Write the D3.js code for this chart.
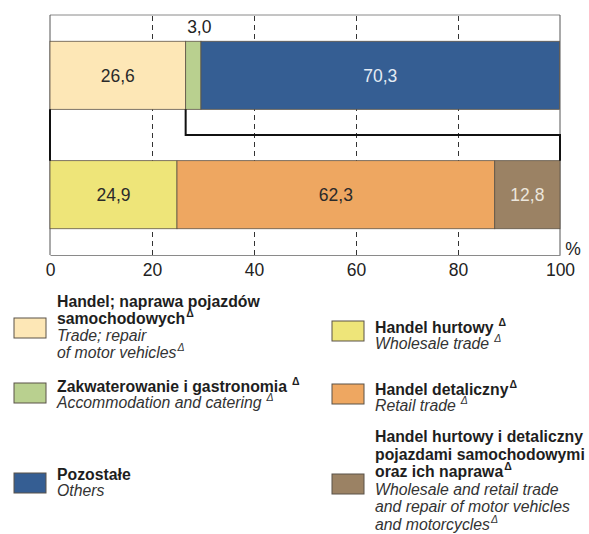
<!DOCTYPE html>
<html>
<head>
<meta charset="utf-8">
<script src="https://cdn.jsdelivr.net/npm/d3@7"></script>
<style>
  body { margin: 0; background: #fff; }
  svg { display: block; font-family: "Liberation Sans", Arial, sans-serif; }
</style>
</head>
<body>
<div id="main"></div>
<script>
// rows of the chart
var rows = ["top", "bottom"];

// top bar: whole economy split
var topKeys = ["trade", "accommodation", "others"];
var topValues = [26.6, 3.0, 70.3];
var topLabels = ["26,6", "3,0", "70,3"];

// bottom bar: split of the trade part
var bottomKeys = ["wholesale", "retail", "motor"];
var bottomValues = [24.9, 62.3, 12.8];
var bottomLabels = ["24,9", "62,3", "12,8"];

var tickValues = [0, 20, 40, 60, 80, 100];

var colors = {
    trade: "#fde7b6",
    accommodation: "#b9d08f",
    others: "#355e93",
    wholesale: "#eee579",
    retail: "#eea761",
    motor: "#9b8264"
};
var labelColors = {
    trade: "#2a2a2a", accommodation: "#2a2a2a", others: "#e4ebf3",
    wholesale: "#2a2a2a", retail: "#2a2a2a", motor: "#ece6dc"
};

// legend text, "^" marks the delta sign
var legendLeft = [
    { key: "trade", bold: ["Handel; naprawa pojazdów", "samochodowych^"], italic: ["Trade; repair", "of motor vehicles^"] },
    { key: "accommodation", bold: ["Zakwaterowanie i gastronomia ^"], italic: ["Accommodation and catering ^"] },
    { key: "others", bold: ["Pozostałe"], italic: ["Others"] }
];
var legendRight = [
    { key: "wholesale", bold: ["Handel hurtowy ^"], italic: ["Wholesale trade ^"] },
    { key: "retail", bold: ["Handel detaliczny^"], italic: ["Retail trade ^"] },
    { key: "motor", bold: ["Handel hurtowy i detaliczny", "pojazdami samochodowymi", "oraz ich naprawa^"],
      italic: ["Wholesale and retail trade", "and repair of motor vehicles", "and motorcycles^"] }
];

var width = 589, height = 534;
var svg = d3.select("#main").append("svg")
    .attr("width", width)
    .attr("height", height);

var x = d3.scaleLinear().domain([0, 100]).range([50, 560]);
var y = d3.scaleBand().domain(rows).range([15, 255]).paddingInner(0.43).paddingOuter(0.22);

// dashed grid
svg.append("g")
    .attr("transform", "translate(0,255)")
    .call(d3.axisBottom(x).tickValues([20, 40, 60, 80]).tickSize(-240).tickFormat(""))
    .call(function(g) {
        g.select(".domain").remove();
        g.selectAll(".tick line").attr("stroke", "#333").attr("stroke-dasharray", "5,4").attr("stroke-width", 1);
    });

// frame
svg.append("line").attr("x1", x(0)).attr("x2", x(100)).attr("y1", 15).attr("y2", 15).attr("stroke", "#8a8a8a");
svg.append("line").attr("x1", x(0)).attr("x2", x(0)).attr("y1", 15).attr("y2", 255).attr("stroke", "#555");
svg.append("line").attr("x1", x(100)).attr("x2", x(100)).attr("y1", 15).attr("y2", 255).attr("stroke", "#555");

function stack(keys, values, labels) {
    var out = [];
    var acc = 0;
    for (var i = 0; i < keys.length; i++) {
        out.push({ key: keys[i], x0: acc, x1: acc + values[i], label: labels[i] });
        acc += values[i];
    }
    return out;
}

var topData = stack(topKeys, topValues, topLabels);
var bottomData = stack(bottomKeys, bottomValues, bottomLabels);

function drawBar(data, row) {
    var g = svg.append("g");
    g.selectAll("rect")
        .data(data)
        .enter()
        .append("rect")
        .attr("x", function(d) { return x(d.x0); })
        .attr("width", function(d) { return x(Math.min(d.x1, 100)) - x(d.x0); })
        .attr("y", y(row))
        .attr("height", y.bandwidth())
        .attr("fill", function(d) { return colors[d.key]; })
        .attr("stroke", "#5e5446")
        .attr("stroke-width", 0.8);

    // small segment gets its label above the bar
    g.selectAll("text")
        .data(data)
        .enter()
        .append("text")
        .attr("x", function(d) { return d.key === "accommodation" ? x(d.x0 + 1.5) + 6 : x((d.x0 + Math.min(d.x1, 100)) / 2); })
        .attr("y", function(d) { return d.key === "accommodation" ? 33 : y(row) + y.bandwidth() / 2 + 6.5; })
        .attr("text-anchor", "middle")
        .attr("font-size", 17.5)
        .attr("fill", function(d) { return d.key === "accommodation" ? "#222" : labelColors[d.key]; })
        .text(function(d) { return d.label; });
}

drawBar(topData, "top");
drawBar(bottomData, "bottom");

// connector from the trade part to the bottom bar
var topBottom = y("top") + y.bandwidth();
var bottomTop = y("bottom");
var midY = topBottom + (bottomTop - topBottom) / 2;
var conn = svg.append("g").attr("fill", "none").attr("stroke", "#111").attr("stroke-width", 2);
conn.append("path")
    .attr("d", d3.line()([[x(0), topBottom], [x(0), bottomTop]]));
conn.append("path")
    .attr("d", d3.line()([[x(topValues[0]), topBottom], [x(topValues[0]), midY], [x(100), midY], [x(100), bottomTop]]));

// x axis
svg.append("g")
    .attr("transform", "translate(0,255)")
    .call(d3.axisBottom(x).tickValues(tickValues).tickSize(0).tickPadding(9))
    .call(function(g) {
        g.select(".domain").attr("stroke", "#8a8a8a");
        g.selectAll("text").attr("font-size", 17.5).attr("fill", "#222")
            .attr("font-family", "\"Liberation Sans\", Arial, sans-serif");
    });

svg.append("text")
    .attr("x", 573)
    .attr("y", 255)
    .attr("text-anchor", "middle")
    .attr("font-size", 17.5)
    .attr("fill", "#222")
    .text("%");

// legend
var legendTops = {
    trade: [307, 318], accommodation: [392, 383], others: [480, 473],
    wholesale: [333, 321], retail: [395, 384], motor: [442, 474]
};

function addLine(parent, str, xPos, yPos, isBold) {
    var t = parent.append("text")
        .attr("x", xPos)
        .attr("y", yPos)
        .attr("font-size", 15.8)
        .attr("font-weight", isBold ? "bold" : "normal")
        .attr("font-style", isBold ? "normal" : "italic")
        .attr("fill", isBold ? "#1e1e1e" : "#333");
    var hasDelta = str.charAt(str.length - 1) === "^";
    var spaced = hasDelta && str.charAt(str.length - 2) === " ";
    t.append("tspan").text(hasDelta ? str.replace(/ ?\^$/, "") : str);
    if (hasDelta) {
        t.append("tspan")
            .attr("dx", spaced ? 5 : 1)
            .attr("dy", -7)
            .attr("font-size", 10.5)
            .text("Δ");
    }
}

function drawLegend(items, swatchX, textX) {
    items.forEach(function(item) {
        var pos = legendTops[item.key];
        var lineH = item.key === "trade" ? 17 : (item.key === "motor" ? 17.5 : 16);
        svg.append("rect")
            .attr("x", swatchX)
            .attr("y", pos[1])
            .attr("width", 32)
            .attr("height", 20)
            .attr("fill", colors[item.key])
            .attr("stroke", "#5a5248")
            .attr("stroke-width", 1);
        var g = svg.append("g");
        var lines = item.bold.map(function(s) { return [s, true]; })
            .concat(item.italic.map(function(s) { return [s, false]; }));
        lines.forEach(function(l, i) {
            addLine(g, l[0], textX, pos[0] + i * lineH, l[1]);
        });
    });
}

drawLegend(legendLeft, 14, 57);
drawLegend(legendRight, 332, 375);
</script>
</body>
</html>
